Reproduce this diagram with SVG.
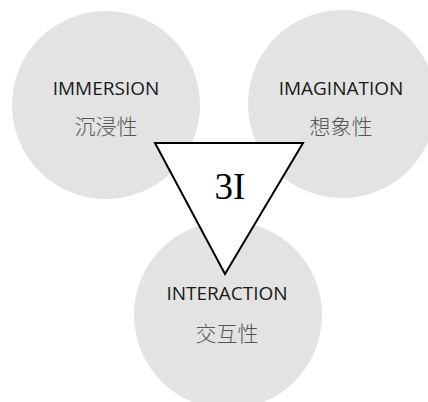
<svg xmlns="http://www.w3.org/2000/svg" width="428" height="402" viewBox="0 0 428 402">
<style>
.c{fill:#e3e3e3}
.en{font-family:"Open Sans","Liberation Sans",sans-serif;font-size:19px;fill:#1a1a1a;text-anchor:middle}
.zh{font-family:"Noto Sans CJK SC",sans-serif;font-size:21px;font-weight:300;fill:#555;text-anchor:middle}
</style>
<rect width="428" height="402" fill="#fff"/>
<g id="immersion">
<circle class="c" cx="106" cy="105" r="94"/>
<text class="en" x="106" y="95">IMMERSION</text>
<text class="zh" x="106" y="134">沉浸性</text>
</g>
<g id="imagination">
<circle class="c" cx="342" cy="104" r="94"/>
<text class="en" x="341" y="95">IMAGINATION</text>
<text class="zh" x="341" y="134">想象性</text>
</g>
<g id="interaction">
<circle class="c" cx="228" cy="315" r="94"/>
<text class="en" x="227" y="300">INTERACTION</text>
<text class="zh" x="227" y="341">交互性</text>
</g>
<g id="center">
<polygon points="155,143 303,143 225,274" fill="#fff" stroke="#000" stroke-width="2" stroke-linejoin="miter"/>
<text x="230" y="199" font-family="Liberation Serif,serif" font-size="37" text-anchor="middle" fill="#000">3I</text>
</g>
</svg>
